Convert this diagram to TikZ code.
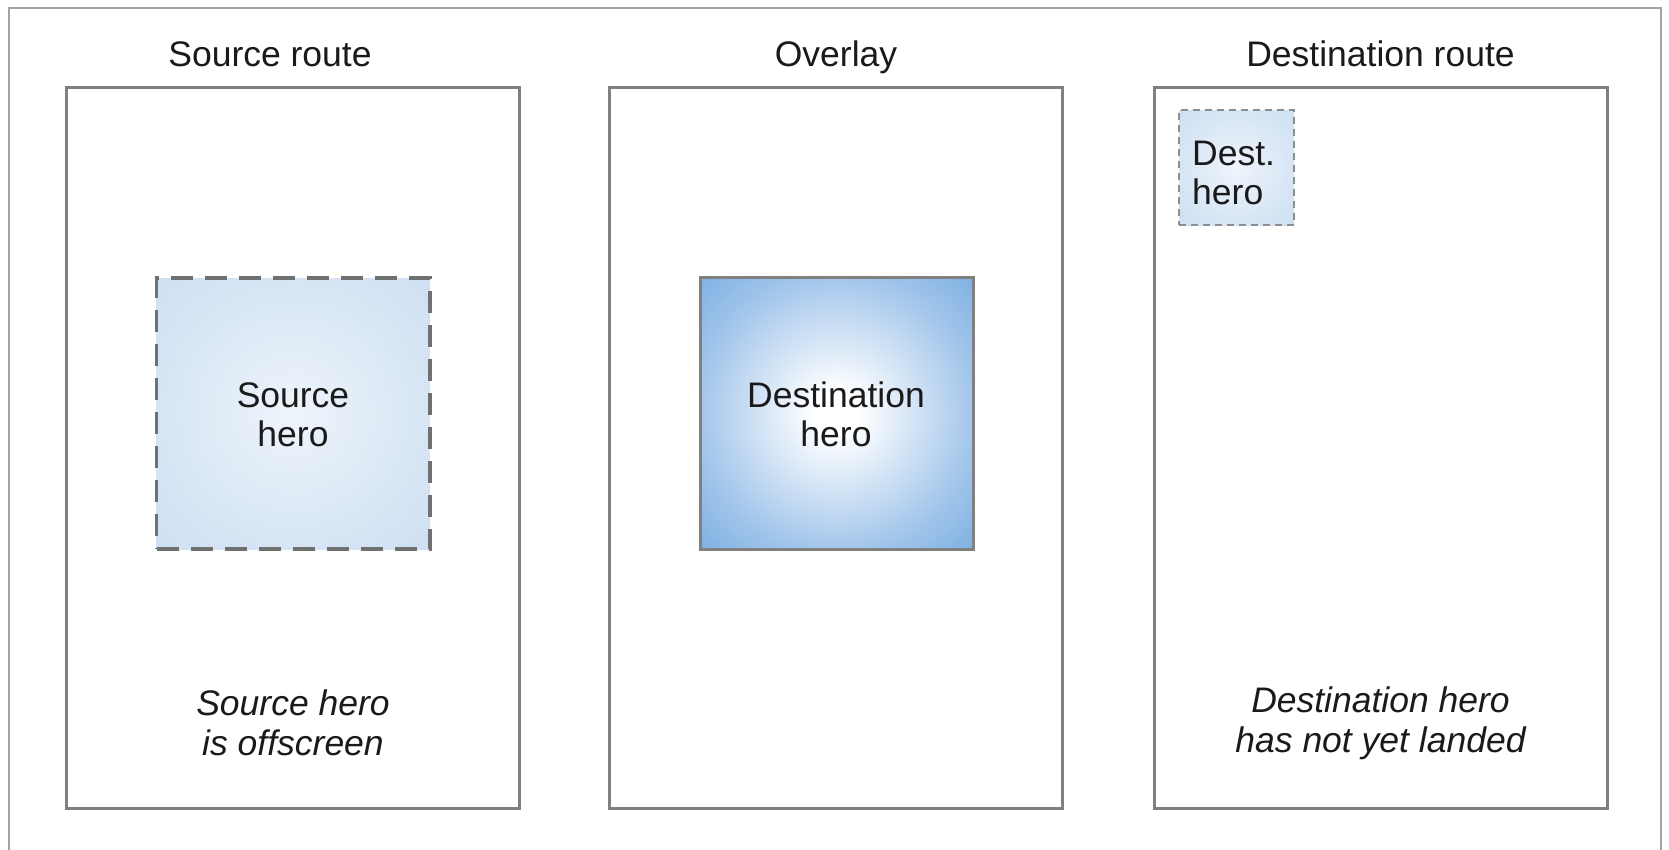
\documentclass[tikz,border=0pt]{standalone}
\usepackage{fontspec}
\setmainfont{Liberation Sans}
\definecolor{panelgray}{HTML}{808080}
\definecolor{framegray}{HTML}{A3A3A3}
\definecolor{dashgray}{HTML}{707070}
\definecolor{txt}{HTML}{1A1A1A}
\definecolor{dhmid}{HTML}{A3C6EB}
\definecolor{dhedge}{HTML}{4B93D7}
\definecolor{dhcorner}{HTML}{2A7ACB}
\definecolor{shcenter}{HTML}{EEF4FB}
\definecolor{shmid}{HTML}{D6E5F4}
\definecolor{shedge}{HTML}{C3D8EE}
\definecolor{shcorner}{HTML}{B8D0EA}
\pgfdeclareradialshading{destshade}{\pgfpointorigin}{color(0bp)=(white); color(4bp)=(white); color(25bp)=(dhmid); color(50bp)=(dhedge); color(71bp)=(dhcorner); color(80bp)=(dhcorner)}
\pgfdeclareradialshading{srcshade}{\pgfpointorigin}{color(0bp)=(shcenter); color(25bp)=(shmid); color(50bp)=(shedge); color(71bp)=(shcorner); color(80bp)=(shcorner)}
\tikzset{
  panelbox/.style={draw=panelgray, line width=3pt, minimum width=453pt, minimum height=721pt, inner sep=0pt},
  titletext/.style={font=\fontsize{35.5}{39}\selectfont, text=txt, anchor=base, inner sep=0pt},
  herotext/.style={font=\fontsize{35.5}{39}\selectfont, text=txt, align=center},
  notetext/.style={font=\fontsize{35.5}{40}\selectfont\itshape, text=txt, align=center, inner sep=0pt},
  srchero/.style={draw=dashgray, line width=3.3pt, dash pattern=on 22pt off 12pt, shading=srcshade, minimum width=273.5pt, minimum height=271pt, inner sep=0pt},
  dsthero/.style={draw=panelgray, line width=3pt, shading=destshade, minimum width=273pt, minimum height=272pt, inner sep=0pt},
  smallhero/.style={draw=dashgray!80, line width=1.5pt, dash pattern=on 7pt off 5pt, shading=srcshade, minimum width=115pt, minimum height=115pt, inner sep=0pt},
}
\begin{document}
\begin{tikzpicture}[x=1pt,y=-1pt]
\useasboundingbox (0,0) rectangle (1669,849);
% outer frame (open at bottom)
\coordinate (fbl) at (9,860);
\coordinate (ftl) at (9,8);
\coordinate (ftr) at (1661,8);
\coordinate (fbr) at (1661,860);
\begin{scope}
\clip (0,0) rectangle (1669,849);
\draw[framegray, line width=1.5pt] (fbl) -- (ftl) -- (ftr) -- (fbr);
\end{scope}
% panels
\node[panelbox] (p1) at (292.5,447.5) {};
\node[panelbox] (p2) at (836,447.5) {};
\node[panelbox] (p3) at (1380.5,447.5) {};
% titles
\node[titletext] (t1) at (270,66) {Source route};
\node[titletext] (t2) at (836,66) {Overlay};
\node[titletext] (t3) at (1380.5,66) {Destination route};
% heroes
\node[srchero] (sh) at (293.25,413.5) {};
\node[herotext] (shl) at (293,414.5) {Source\\hero};
\node[dsthero] (dh) at (836.5,413) {};
\node[herotext] (dhl) at (836,414.5) {Destination\\hero};
\node[smallhero] (smh) at (1236.5,167.5) {};
\node[herotext, align=left, anchor=west, inner sep=0pt] (smhl) at (1192,172.5) {Dest.\\hero};
% notes
\node[notetext] (n1) at (293,723) {Source hero\\is offscreen};
\node[notetext] (n3) at (1380.5,723) {Destination hero\\has not yet landed};
\end{tikzpicture}
\end{document}
